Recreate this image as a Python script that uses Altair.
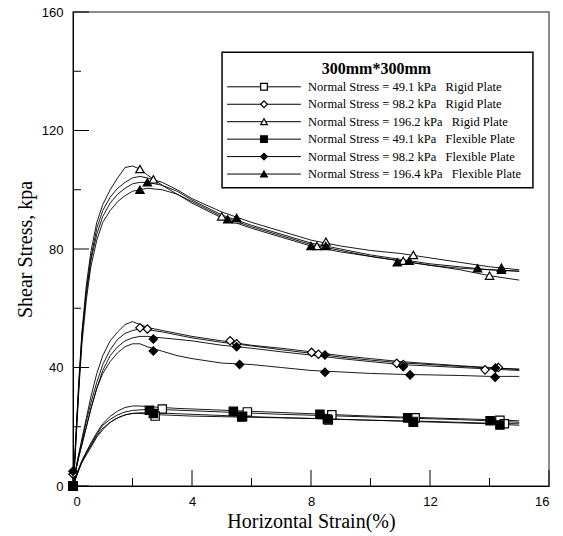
import altair as alt
import pandas as pd

# ---------------- data ----------------
X = [0, 0.05, 0.1, 0.2, 0.3, 0.45, 0.6, 0.8, 1.0, 1.25, 1.5, 1.75, 2.0, 2.25, 2.5,
     3, 3.5, 4, 5, 6, 7, 8, 9, 10, 11, 12, 13, 14, 15]

# normal stress 196 kPa
R196a = [0, 8, 18, 36, 52, 68, 79, 89, 95, 100, 104, 107.5, 108, 107, 105, 101.5, 98.5, 96, 91, 87.5, 84.5, 81.5, 79.5, 77.5, 76, 74.5, 73, 71, 69.5]
R196b = [0, 7, 16, 34, 50, 66, 77, 87, 93, 97.5, 100.5, 102.5, 104, 104.5, 104, 102.5, 100, 97, 92.5, 89, 86, 83, 81, 79.5, 78.5, 77, 75.5, 74, 73]
F196a = [0, 7, 17, 35, 51, 65, 76, 85, 91, 95.5, 98.5, 100.5, 102, 102.5, 102.5, 101.5, 99.5, 96.5, 91.5, 88, 85, 82, 80, 78, 76.5, 75, 74, 73, 72.5]
F196b = [0, 6, 15, 33, 48, 63, 74, 83, 89, 93, 96, 98, 99.5, 100, 100.5, 100, 98.5, 95.5, 90.5, 87, 84, 81, 79, 77.5, 76, 74.5, 73.5, 73, 72.5]
# normal stress 98 kPa
R98a = [0, 3, 6, 11, 16, 23, 30, 38, 44, 49, 52, 54.5, 55.5, 54.5, 53.5, 52.5, 51.5, 50.5, 49, 47.5, 46.5, 45.3, 44, 43, 42, 41.3, 40.6, 40, 39.3]
R98b = [0, 3, 6, 11, 15, 22, 28, 35, 41, 46, 49.5, 51.5, 52.5, 53, 52.8, 52, 51, 50, 48.5, 47.3, 46, 44.8, 43.5, 42.5, 41.6, 41, 40.4, 39.8, 39.5]
F98a = [0, 2.5, 5.5, 10, 14, 20, 26, 33, 39, 44, 47, 49, 50, 50.5, 50.5, 50, 49.5, 49, 47.5, 46.5, 45.3, 44.2, 43, 42, 41, 40.5, 40, 39.5, 39]
F98b = [0, 2.5, 5.5, 10, 14, 20, 26, 33, 38, 42, 45, 47, 48, 48, 47, 45.5, 44, 43, 41.5, 41, 40, 39, 38.5, 38, 37.7, 37.5, 37.3, 37, 37]
# normal stress 49 kPa
R49a = [0, 1.5, 3, 6, 8.5, 11.5, 14.5, 18, 21, 23.5, 25.3, 26.5, 27, 27, 26.8, 26.5, 26.2, 26, 25.6, 25.2, 24.8, 24.4, 24, 23.6, 23.3, 23, 22.7, 22.4, 22]
R49b = [0, 1.5, 3, 5.5, 8, 11, 13.5, 17, 19.5, 21.5, 23, 24, 24.5, 24.5, 24.3, 24, 23.8, 23.6, 23.4, 23.2, 23, 22.8, 22.5, 22.2, 22, 21.8, 21.5, 21.2, 21]
F49a = [0, 1.5, 3, 6, 8.5, 11.5, 14, 17.5, 20.5, 22.5, 24, 25, 25.5, 25.7, 25.8, 25.8, 25.6, 25.4, 25, 24.6, 24.2, 23.9, 23.6, 23.3, 23, 22.7, 22.4, 22, 21.5]
F49b = [0, 1.2, 2.8, 5.5, 8, 10.5, 13, 16.5, 19, 21.5, 23, 24, 24.5, 24.7, 24.7, 24.6, 24.4, 24.2, 23.8, 23.4, 23.1, 22.8, 22.5, 22.2, 21.9, 21.6, 21.3, 21, 20.5]

# markers (x, y) per curve
M_R49a = ([0, 3.0, 5.86, 8.7, 11.5, 14.35], [0, 26, 25, 24, 23, 22.2])
M_R49b = ([0, 2.76, 5.67, 8.58, 11.44, 14.5], [0, 23.6, 23.3, 22.3, 21.8, 21])
M_F49a = ([0, 2.57, 5.39, 8.3, 11.25, 14.02], [0, 25.6, 25.2, 24.2, 23, 22])
M_F49b = ([0, 2.7, 5.7, 8.55, 11.44, 14.35], [0, 24.5, 23.5, 22.6, 21.5, 20.6])
M_R98a = ([0, 2.25, 5.28, 8.02, 10.88, 13.85], [4, 53.4, 49, 45.1, 41.4, 39.2])
M_R98b = ([0, 2.5, 5.5, 8.25, 11.1, 14.3], [0, 53, 48, 44.5, 41, 40])
M_F98a = ([0, 2.7, 5.5, 8.47, 11.1, 14.2], [5, 49.6, 47, 44.2, 40.3, 39.8])
M_F98b = ([0, 2.7, 5.6, 8.47, 11.33, 14.19], [0, 45.6, 41, 38.4, 37.5, 36.7])
M_R196a = ([0, 2.25, 5.0, 8.2, 11.1, 14.0], [0, 107, 91, 81, 76, 71])
M_R196b = ([0, 2.7, 5.5, 8.5, 11.44, 14.4], [0, 103.5, 90, 82.5, 78, 73.7])
M_F196a = ([0, 2.5, 5.5, 8.5, 11.3, 14.4], [0, 102.5, 90.5, 81, 76, 73])
M_F196b = ([0, 2.25, 5.2, 8.0, 10.9, 13.6], [0, 100, 90, 81, 75.5, 73.5])

SP = "\u00a0\u00a0\u00a0"
SERIES = [
    "Normal Stress = 49.1 kPa" + SP + "Rigid Plate",
    "Normal Stress = 98.2 kPa" + SP + "Rigid Plate",
    "Normal Stress = 196.2 kPa" + SP + "Rigid Plate",
    "Normal Stress = 49.1 kPa" + SP + "Flexible Plate",
    "Normal Stress = 98.2 kPa" + SP + "Flexible Plate",
    "Normal Stress = 196.4 kPa" + SP + "Flexible Plate",
]
LEGEND_TITLE = "300mm*300mm"
SHAPES = ["square", "diamond", "triangle-up", "square", "diamond", "triangle-up"]
FILLS = ["white", "white", "white", "black", "black", "black"]

X_MAJOR = [0, 4, 8, 12, 16]
X_MINOR = [2, 6, 10, 14]
Y_MAJOR = [0, 40, 80, 120, 160]
Y_MINOR = [20, 60, 100, 140]

# legend layout (in data units of the axes)
LEG_BOX = dict(x=5.01, x2=15.46, y=146.4, y2=100.7)
LEG_TITLE_POS = (10.2, 140.9)
LEG_ROW_Y = [134.75, 128.86, 122.97, 117.08, 111.19, 105.30]
LEG_LINE_X = (5.18, 7.66)
LEG_MARK_X = 6.42
LEG_TEXT_X = 7.9

# ---------------- tables ----------------
curves = [
    ("R49a", 0, R49a, M_R49a), ("R49b", 0, R49b, M_R49b),
    ("R98a", 1, R98a, M_R98a), ("R98b", 1, R98b, M_R98b),
    ("R196a", 2, R196a, M_R196a), ("R196b", 2, R196b, M_R196b),
    ("F49a", 3, F49a, M_F49a), ("F49b", 3, F49b, M_F49b),
    ("F98a", 4, F98a, M_F98a), ("F98b", 4, F98b, M_F98b),
    ("F196a", 5, F196a, M_F196a), ("F196b", 5, F196b, M_F196b),
]
line_rows, pt_rows = [], []
for cid, si, ys, (mx, my) in curves:
    for xv, yv in zip(X, ys):
        line_rows.append({"x": xv, "y": yv, "curve": cid})
    for xv, yv in zip(mx, my):
        pt_rows.append({"x": xv, "y": yv, "series": SERIES[si]})
lines_df = pd.DataFrame(line_rows)
pts_df = pd.DataFrame(pt_rows)
leg_df = pd.DataFrame({
    "series": SERIES,
    "y": LEG_ROW_Y,
    "x1": [LEG_LINE_X[0]] * 6,
    "x2": [LEG_LINE_X[1]] * 6,
    "xm": [LEG_MARK_X] * 6,
    "xt": [LEG_TEXT_X] * 6,
})

W, H = 476, 474
xs = alt.Scale(domain=[0, 16], nice=False, zero=False)
ys_ = alt.Scale(domain=[0, 160], nice=False, zero=False)
shape_scale = alt.Scale(domain=SERIES, range=SHAPES)
fill_scale = alt.Scale(domain=SERIES, range=FILLS)

x_axis = alt.Axis(values=X_MAJOR, ticks=False, grid=False, domainColor="black",
                  labelFont="Liberation Sans", labelFontSize=13, labelColor="black",
                  labelPadding=9, title="Horizontal Strain(%)", titleFont="Liberation Serif",
                  titleFontSize=20, titleFontWeight="normal", titleColor="black", titlePadding=3)
y_axis = alt.Axis(values=Y_MAJOR, ticks=False, grid=False, domainColor="black",
                  labelFont="Liberation Sans", labelFontSize=13, labelColor="black",
                  labelPadding=10, title="Shear Stress, kpa", titleFont="Liberation Serif",
                  titleFontSize=20, titleFontWeight="normal", titleColor="black", titlePadding=6)

lines = alt.Chart(lines_df).mark_line(color="black", strokeWidth=0.9, clip=False).encode(
    x=alt.X("x:Q", scale=xs, axis=x_axis),
    y=alt.Y("y:Q", scale=ys_, axis=y_axis),
    detail="curve:N",
)

points = alt.Chart(pts_df).mark_point(filled=True, stroke="black", strokeWidth=1.2, size=70, opacity=1).encode(
    x="x:Q", y="y:Q",
    shape=alt.Shape("series:N", scale=shape_scale, legend=None),
    fill=alt.Fill("series:N", scale=fill_scale, legend=None),
)

# ---- legend drawn inside the plot ----
leg_box = alt.Chart(pd.DataFrame([LEG_BOX])).mark_rect(fill="white", stroke="black", strokeWidth=1.5).encode(
    x="x:Q", x2="x2:Q", y="y:Q", y2="y2:Q")
leg_title = alt.Chart(pd.DataFrame({"x": [LEG_TITLE_POS[0]], "y": [LEG_TITLE_POS[1]], "t": [LEGEND_TITLE]})).mark_text(
    font="Liberation Serif", fontSize=16, fontWeight="bold", color="black", align="center", baseline="middle"
).encode(x="x:Q", y="y:Q", text="t:N")
leg_lines = alt.Chart(leg_df).mark_rule(color="black", strokeWidth=1).encode(
    x="x1:Q", x2="x2:Q", y="y:Q")
leg_marks = alt.Chart(leg_df).mark_point(filled=True, stroke="black", strokeWidth=1.2, size=45, opacity=1).encode(
    x="xm:Q", y="y:Q",
    shape=alt.Shape("series:N", scale=shape_scale, legend=None),
    fill=alt.Fill("series:N", scale=fill_scale, legend=None),
)
leg_text = alt.Chart(leg_df).mark_text(
    font="Liberation Serif", fontSize=12.5, color="black", align="left", baseline="middle"
).encode(x="xt:Q", y="y:Q", text="series:N")

xmaj = alt.Chart(pd.DataFrame({"v": X_MAJOR})).mark_rule(color="black").encode(
    x="v:Q", y=alt.value(H), y2=alt.value(H - 16))
xmin = alt.Chart(pd.DataFrame({"v": X_MINOR})).mark_rule(color="black").encode(
    x="v:Q", y=alt.value(H), y2=alt.value(H - 8))
ymaj = alt.Chart(pd.DataFrame({"v": Y_MAJOR})).mark_rule(color="black").encode(
    y="v:Q", x=alt.value(0), x2=alt.value(16))
ymin = alt.Chart(pd.DataFrame({"v": Y_MINOR})).mark_rule(color="black").encode(
    y="v:Q", x=alt.value(0), x2=alt.value(8))

chart = alt.layer(
    lines, points, xmaj, xmin, ymaj, ymin,
    leg_box, leg_title, leg_lines, leg_marks, leg_text,
).properties(
    width=W, height=H,
    autosize=alt.AutoSizeParams(type="none"),
    padding={"left": 73, "top": 12, "right": 14, "bottom": 50},
    background="white",
).configure_view(stroke="#666", strokeWidth=1.5)

chart.save("out.html", embed_options={"renderer": "svg", "actions": False})
